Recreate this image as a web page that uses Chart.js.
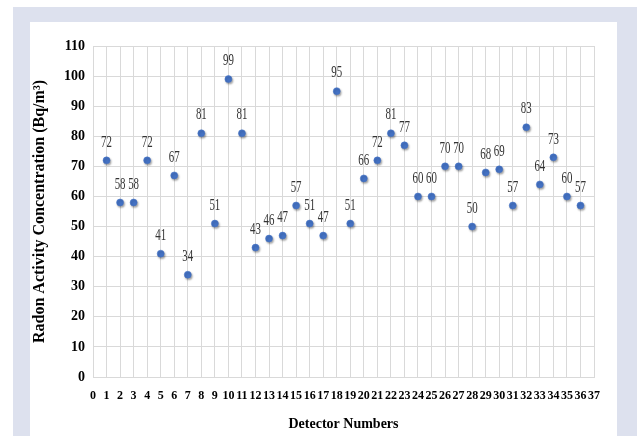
<!DOCTYPE html>
<html>
<head>
<meta charset="utf-8">
<script src="https://cdn.jsdelivr.net/npm/chart.js@4/dist/chart.umd.min.js"></script>
<style>
html,body{margin:0;padding:0;background:#ffffff;}
canvas{display:block;}
</style>
</head>
<body>
<canvas id="c" width="637" height="436"></canvas>
<script>
// ---- data ----
const detectorNumbers = [1,2,3,4,5,6,7,8,9,10,11,12,13,14,15,16,17,18,19,20,21,22,23,24,25,26,27,28,29,30,31,32,33,34,35,36];
const radonValues = [72,58,58,72,41,67,34,81,51,99,81,43,46,47,57,51,47,95,51,66,72,81,77,60,60,70,70,50,68,69,57,83,64,73,60,57];
const xTickValues = [0,1,2,3,4,5,6,7,8,9,10,11,12,13,14,15,16,17,18,19,20,21,22,23,24,25,26,27,28,29,30,31,32,33,34,35,36,37];
const yTickValues = [0,10,20,30,40,50,60,70,80,90,100,110];
const xTitle = 'Detector Numbers';
const yTitle = 'Radon Activity Concentration (Bq/m\u00B3)';

const SERIF = '"Liberation Serif", "Times New Roman", serif';

const framePlugin = {
  id: 'frame',
  beforeDraw(chart) {
    const ctx = chart.ctx;
    ctx.save();
    ctx.fillStyle = '#ffffff';
    ctx.fillRect(0, 0, chart.width, chart.height);
    ctx.fillStyle = '#dde1ee';
    ctx.fillRect(13, 7, chart.width - 13, chart.height - 7);
    ctx.fillStyle = '#ffffff';
    ctx.fillRect(30, 22, 587, chart.height - 22);
    ctx.restore();
  }
};

const shadowPlugin = {
  id: 'dotShadow',
  beforeDatasetDraw(chart) {
    const ctx = chart.ctx;
    ctx.save();
    ctx.shadowColor = 'rgba(0,0,0,0.35)';
    ctx.shadowBlur = 2;
    ctx.shadowOffsetX = 1;
    ctx.shadowOffsetY = 1.5;
  },
  afterDatasetDraw(chart) {
    chart.ctx.restore();
  }
};

const labelPlugin = {
  id: 'valueLabels',
  afterDatasetsDraw(chart) {
    const ctx = chart.ctx;
    const meta = chart.getDatasetMeta(0);
    ctx.save();
    ctx.font = '16px ' + SERIF;
    ctx.fillStyle = '#333333';
    ctx.textAlign = 'center';
    ctx.textBaseline = 'middle';
    meta.data.forEach((pt, i) => {
      ctx.save();
      ctx.translate(pt.x, pt.y - 18);
      ctx.scale(0.68, 1);
      ctx.fillText(String(radonValues[i]), 0, 0);
      ctx.restore();
    });
    ctx.restore();
  }
};

new Chart(document.getElementById('c'), {
  type: 'scatter',
  data: {
    datasets: [{
      data: detectorNumbers.map((d, i) => ({ x: d, y: radonValues[i] })),
      backgroundColor: '#4472c4',
      borderColor: '#4472c4',
      pointRadius: 3.5,
      pointBorderWidth: 0.5
    }]
  },
  options: {
    responsive: false,
    animation: false,
    devicePixelRatio: 1,
    layout: { padding: { left: 0, right: 43, top: 46, bottom: 0 } },
    plugins: {
      legend: { display: false },
      tooltip: { enabled: false }
    },
    scales: {
      x: {
        type: 'linear',
        min: 0,
        max: 37,
        afterBuildTicks(s) { s.ticks = xTickValues.map(v => ({ value: v })); },
        afterFit(s) { s.height = 59; },
        ticks: {
          autoSkip: false,
          maxRotation: 0,
          padding: 12,
          color: '#000000',
          font: { family: SERIF, weight: 'bold', size: 12 }
        },
        grid: { color: '#d9d9d9', drawTicks: false },
        border: { color: '#d9d9d9' },
        title: {
          display: true,
          text: xTitle,
          color: '#000000',
          font: { family: SERIF, weight: 'bold', size: 14 },
          padding: { top: 0, bottom: 3 }
        }
      },
      y: {
        min: 0,
        max: 110,
        afterBuildTicks(s) { s.ticks = yTickValues.map(v => ({ value: v })); },
        afterFit(s) { s.width = 93; },
        ticks: {
          padding: 8,
          color: '#000000',
          font: { family: SERIF, weight: 'bold', size: 14 }
        },
        grid: { color: '#d9d9d9', drawTicks: false },
        border: { color: '#d9d9d9' },
        title: {
          display: true,
          text: yTitle,
          color: '#000000',
          font: { family: SERIF, weight: 'bold', size: 16 },
          padding: { top: 30, bottom: 0 }
        }
      }
    }
  },
  plugins: [framePlugin, shadowPlugin, labelPlugin]
});
</script>
</body>
</html>
